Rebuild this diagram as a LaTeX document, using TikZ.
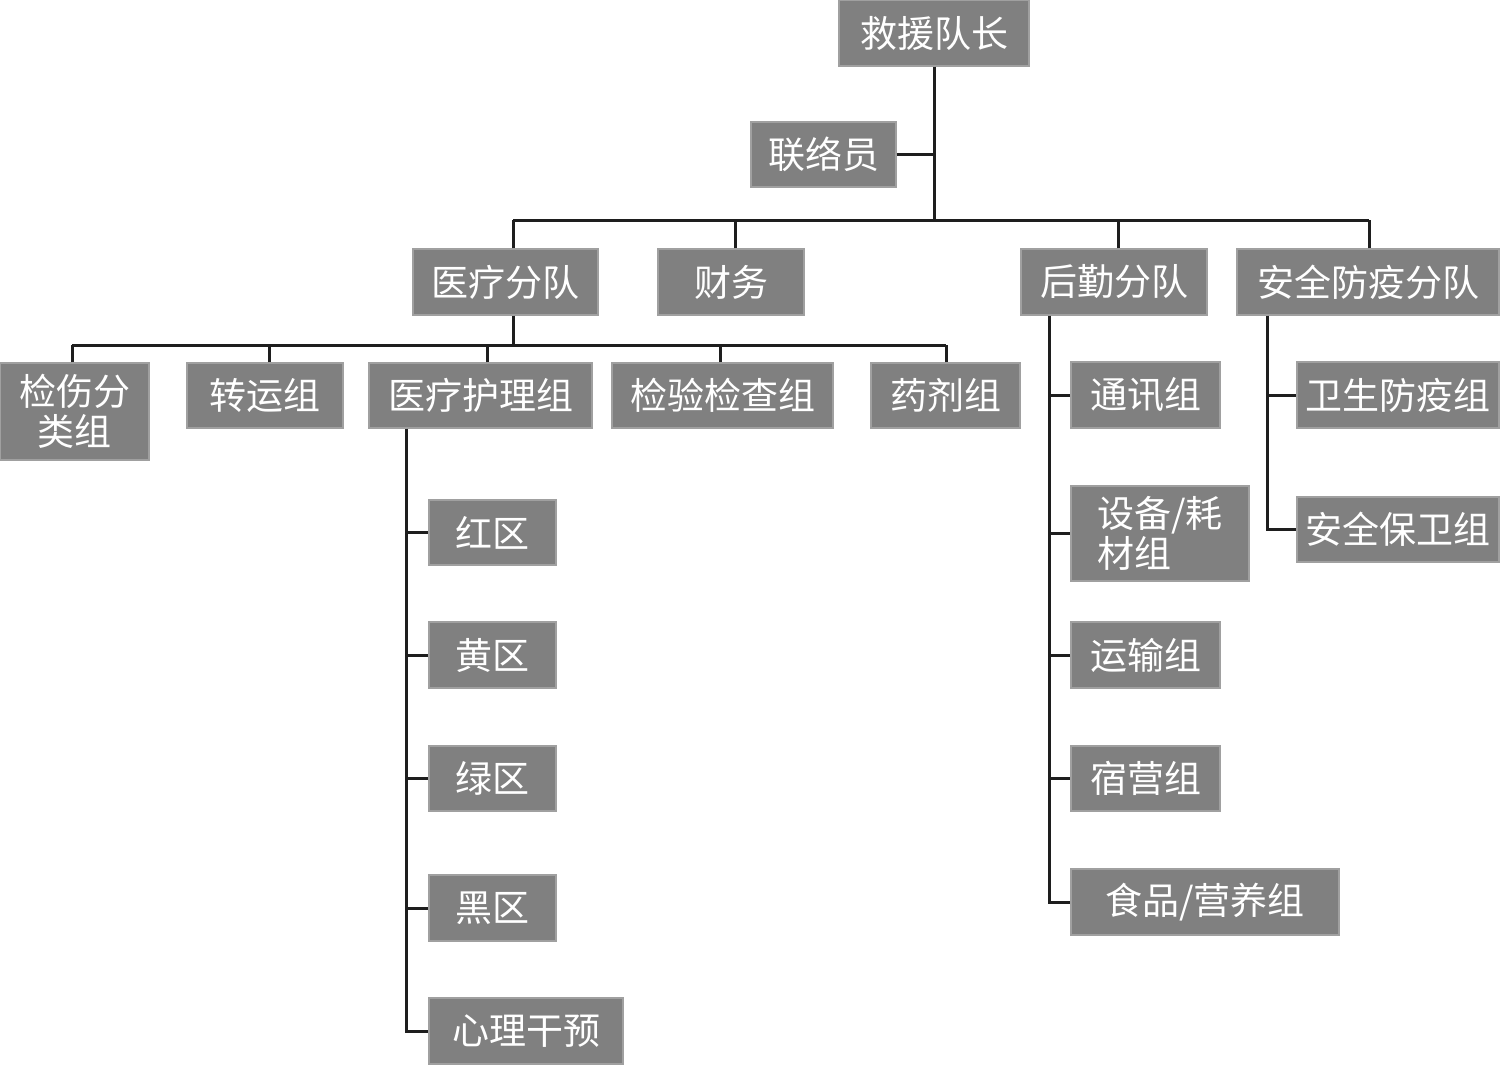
\documentclass[tikz,border=0pt]{standalone}
\usepackage{fontspec}
\newfontfamily\cjk{Noto Sans CJK SC}
\definecolor{boxgray}{RGB}{128,128,128}
\definecolor{edgegray}{RGB}{160,160,160}
\definecolor{linecol}{RGB}{30,30,30}
\tikzset{
  box/.style={fill=boxgray, draw=edgegray, line width=0.6pt, text=white, inner sep=0pt,
    font=\cjk\fontsize{18.5}{20}\selectfont, align=center},
  conn/.style={draw=linecol, line width=1.5pt}
}
\begin{document}
\begin{tikzpicture}[x=0.5pt, y=-0.5pt]
\useasboundingbox (0,0) rectangle (1500,1065);
% level 0/1
\node[box, minimum width=95pt, minimum height=33pt] (lead) at (934,33) {救援队长};
\node[box, minimum width=72.5pt, minimum height=32.5pt] (liaison) at (823.5,154.5) {联络员};
% level 2
\node[box, minimum width=92.5pt, minimum height=33pt] (med) at (505.5,282) {医疗分队};
\node[box, minimum width=73pt, minimum height=33pt] (fin) at (731,282) {财务};
\node[box, minimum width=93pt, minimum height=33pt] (log) at (1114,282) {后勤分队};
\node[box, minimum width=131pt, minimum height=33pt] (safe) at (1368,282) {安全防疫分队};
% level 3 medical
\node[box, minimum width=74.5pt, minimum height=48.5pt] (triage) at (74.5,411.5) {检伤分\\类组};
\node[box, minimum width=78pt, minimum height=32.5pt] (trans) at (265,395.5) {转运组};
\node[box, minimum width=111.5pt, minimum height=32.5pt] (care) at (480.5,395.5) {医疗护理组};
\node[box, minimum width=110.5pt, minimum height=32.5pt] (lab) at (722.5,395.5) {检验检查组};
\node[box, minimum width=74.5pt, minimum height=32.5pt] (pharm) at (945.5,395.5) {药剂组};
% care zones
\node[box, minimum width=63.5pt, minimum height=32.5pt] (red) at (492.5,532.5) {红区};
\node[box, minimum width=63.5pt, minimum height=33pt] (yellow) at (492.5,655) {黄区};
\node[box, minimum width=63.5pt, minimum height=32.5pt] (green) at (492.5,778.5) {绿区};
\node[box, minimum width=63.5pt, minimum height=33pt] (black) at (492.5,908) {黑区};
\node[box, minimum width=97pt, minimum height=33pt] (psych) at (526,1031) {心理干预};
% logistics
\node[box, minimum width=74.5pt, minimum height=33pt] (comm) at (1145.5,395) {通讯组};
\node[box, minimum width=89pt, minimum height=47.5pt, align=left] (equip) at (1160,533.5) {设备/耗\\材组};
\node[box, minimum width=74.5pt, minimum height=33pt] (transp) at (1145.5,655) {运输组};
\node[box, minimum width=74.5pt, minimum height=32.5pt] (camp) at (1145.5,778.5) {宿营组};
\node[box, minimum width=134pt, minimum height=33pt] (food) at (1205,902) {食品/营养组};
% safety
\node[box, minimum width=101pt, minimum height=33pt] (hyg) at (1398,395) {卫生防疫组};
\node[box, minimum width=101pt, minimum height=32.5pt] (secu) at (1398,529.5) {安全保卫组};
% stub points (slightly off-centre, as in the reference)
\coordinate (medN) at ([xshift=3.75pt]med.north);
\coordinate (medS) at ([xshift=3.75pt]med.south);
\coordinate (finN) at ([xshift=2pt]fin.north);
\coordinate (logN) at ([xshift=2pt]log.north);
\coordinate (safeN) at ([xshift=0.5pt]safe.north);
\coordinate (triN) at ([xshift=-1.25pt]triage.north);
\coordinate (traN) at ([xshift=2pt]trans.north);
\coordinate (carN) at ([xshift=3.25pt]care.north);
\coordinate (labN) at ([xshift=-1.25pt]lab.north);
\coordinate (phaN) at ([xshift=0.25pt]pharm.north);
% connectors
\coordinate (bar) at (935,220);
\coordinate (mbar) at (513,345);
\draw[conn] (lead.south) -- (lead.south |- bar);
\draw[conn] (liaison.east) -- (liaison.east -| lead.south);
\draw[conn] (medN |- bar) -- (safeN |- bar);
\foreach \n in {medN,finN,logN,safeN} \draw[conn] (\n) -- (\n |- bar);
\draw[conn] (medS) -- (medS |- mbar);
\draw[conn] (triN |- mbar) -- (phaN |- mbar);
\foreach \n in {triN,traN,carN,labN,phaN} \draw[conn] (\n) -- (\n |- mbar);
% care vertical
\coordinate (cv) at ([xshift=19pt]care.south west);
\draw[conn] (cv) |- (psych.west);
\foreach \n in {red,yellow,green,black} \draw[conn] (cv |- \n.west) -- (\n.west);
% logistics vertical
\coordinate (lv) at ([xshift=14.5pt]log.south west);
\draw[conn] (lv) |- (food.west);
\foreach \n in {comm,equip,transp,camp} \draw[conn] (lv |- \n.west) -- (\n.west);
% safety vertical
\coordinate (sv) at ([xshift=15.5pt]safe.south west);
\draw[conn] (sv) |- (secu.west);
\draw[conn] (sv |- hyg.west) -- (hyg.west);
\end{tikzpicture}
\end{document}
